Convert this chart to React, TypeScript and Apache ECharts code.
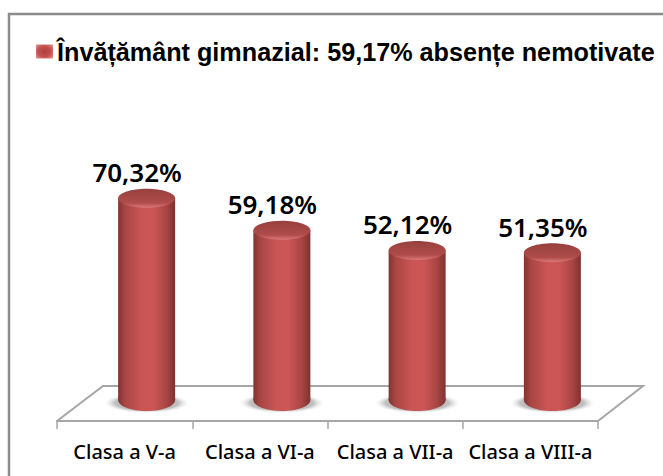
import React, { useEffect, useRef } from "react";
import * as echarts from "echarts";

const categories = ["Clasa a V-a", "Clasa a VI-a", "Clasa a VII-a", "Clasa a VIII-a"];
const values = [70.32, 59.18, 52.12, 51.35];
const valueLabels = ["70,32%", "59,18%", "52,12%", "51,35%"];
const seriesName = "Învățământ gimnazial: 59,17% absențe nemotivate";

const DX = 22;
const DY = -21;
const RX = 28.5;
const TOP_RY = 9.5;
const BASE_RY = 11;

const bodyFill = new echarts.graphic.LinearGradient(0, 0, 1, 0, [
  { offset: 0, color: "#7f3432" },
  { offset: 0.12, color: "#a84644" },
  { offset: 0.4, color: "#c95554" },
  { offset: 0.62, color: "#cb5655" },
  { offset: 0.85, color: "#a84544" },
  { offset: 1, color: "#7c3230" },
]);
const topFill = new echarts.graphic.LinearGradient(0, 0, 0, 1, [
  { offset: 0, color: "#96403e" },
  { offset: 0.75, color: "#b04c4a" },
  { offset: 1, color: "#dc7a79" },
]);
const shadowFill = new echarts.graphic.RadialGradient(0.5, 0.5, 0.5, [
  { offset: 0, color: "rgba(150,150,150,0.85)" },
  { offset: 0.75, color: "rgba(165,165,165,0.7)" },
  { offset: 1, color: "rgba(230,230,230,0)" },
]);
const markerFill = new echarts.graphic.RadialGradient(0.5, 0.5, 0.7, [
  { offset: 0, color: "#b23f3d" },
  { offset: 0.55, color: "#c4504e" },
  { offset: 1, color: "#e39a98" },
]);

export default function App() {
  const ref = useRef<HTMLDivElement>(null);
  useEffect(() => {
    document.body.style.margin = "0";
    const chart = echarts.init(ref.current!, null, { renderer: "svg" });
    chart.setOption({
      animation: false,
      backgroundColor: "#fff",
      legend: {
        left: 36,
        top: 39,
        padding: 0,
        itemWidth: 17,
        itemHeight: 14,
        itemGap: 0,
        icon: "rect",
        data: [{ name: seriesName, itemStyle: { color: markerFill } }],
        textStyle: { fontFamily: "Liberation Sans", fontWeight: "bold", fontSize: 25.2, color: "#000", padding: [0, 0, 0, -1] },
      },
      grid: { left: 57, right: 65, top: 134, height: 287 },
      xAxis: {
        type: "category",
        data: categories,
        axisLine: { show: true, lineStyle: { color: "#a6a6a6", width: 2 } },
        axisTick: { show: true, length: 8, lineStyle: { color: "#a6a6a6", width: 1.5 } },
        axisLabel: { show: true, interval: 0, hideOverlap: false, fontFamily: "Noto Sans", fontSize: 20, color: "#000", margin: 20, fontWeight: 500 },
      },
      yAxis: { type: "value", min: 0, max: 100, show: false },
      graphic: [
        {
          type: "polyline", z: -1, silent: true,
          shape: { points: [[9, 476], [9, 14], [663, 14]] },
          style: { stroke: "#8c8c8c", lineWidth: 2.5, fill: "none" },
        },
        {
          type: "polyline", z: -1, silent: true,
          shape: { points: [[57, 421], [103, 386], [643, 386], [598, 421]] },
          style: { stroke: "#a6a6a6", lineWidth: 2, fill: "none" },
        },
      ],
      series: [
        {
          type: "custom",
          name: seriesName,
          itemStyle: { color: "#bf4a48" },
          coordinateSystem: "cartesian2d",
          data: values.map((v, i) => [i, v]),
          encode: { x: 0, y: 1 },
          renderItem: (params: any, api: any) => {
            const i = api.value(0);
            const top = api.coord([i, api.value(1)]);
            const base = api.coord([i, 0]);
            const cx = top[0] + DX;
            const yTop = top[1] + DY;
            const yBase = base[1] + DY;
            return {
              type: "group",
              children: [
                { type: "ellipse", shape: { cx, cy: yBase + 3, rx: RX + 14, ry: BASE_RY - 1 }, style: { fill: shadowFill } },
                { type: "ellipse", shape: { cx, cy: yBase, rx: RX, ry: BASE_RY }, style: { fill: bodyFill } },
                { type: "rect", shape: { x: cx - RX, y: yTop, width: RX * 2, height: yBase - yTop }, style: { fill: bodyFill } },
                { type: "ellipse", shape: { cx, cy: yTop, rx: RX, ry: TOP_RY }, style: { fill: topFill } },
                {
                  type: "text",
                  style: {
                    x: cx - 9.5, y: yTop - 26, text: valueLabels[params.dataIndex],
                    align: "center", verticalAlign: "middle",
                    fontFamily: "Noto Sans", fontSize: 26, fontWeight: 600, fill: "#000",
                  },
                },
              ],
            };
          },
        },
      ],
    });
    return () => chart.dispose();
  }, []);
  return <div ref={ref} style={{ position: "fixed", left: 0, top: 0, width: 663, height: 476 }} />;
}
